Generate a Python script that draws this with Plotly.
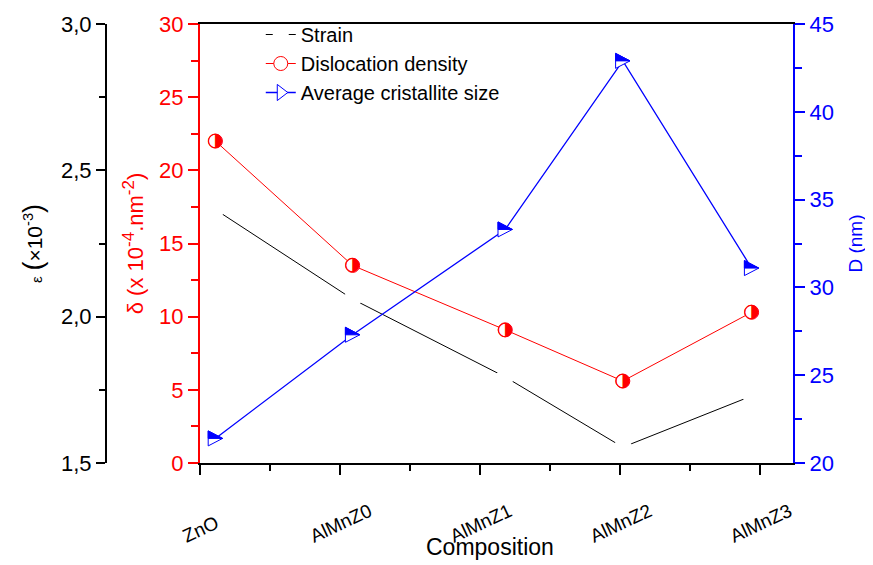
import plotly.graph_objects as go

# ---- data ----
categories = ["ZnO", "AlMnZ0", "AlMnZ1", "AlMnZ2", "AlMnZ3"]
tick_pos = [0, 1, 2, 3, 4]
x_pos = [0.11, 1.09, 2.18, 3.02, 3.94]          # x location of each sample's points
strain = [2.366, 2.060, 1.794, 1.554, 1.729]     # epsilon (x10^-3)
dislocation = [22.0, 13.5, 9.1, 5.6, 10.3]       # delta (x10^-4 nm^-2)
cryst_size = [21.4, 27.3, 33.3, 42.9, 31.1]      # D (nm)

FONT = "Liberation Sans, Arial, Helvetica, sans-serif"
RED = "#ff0000"
BLUE = "#0000ff"

fig = go.Figure()

# Strain: line with gaps at (hidden) symbols
fig.add_trace(go.Scatter(
    x=x_pos, y=strain, name="Strain",
    mode="lines+markers", yaxis="y",
    line=dict(color="black", width=1),
    marker=dict(color="white", size=18, line=dict(width=0)),
    hoverinfo="skip"))

# Dislocation density
fig.add_trace(go.Scatter(
    x=x_pos, y=dislocation, name="Dislocation density",
    mode="lines+markers", yaxis="y2",
    line=dict(color=RED, width=1),
    marker=dict(symbol="circle", color="white", size=14, line=dict(color=RED, width=1)),
    hoverinfo="skip"))
fig.add_trace(go.Scatter(
    x=x_pos, y=dislocation, mode="text", text=["◑"] * len(x_pos), yaxis="y2",
    textposition="middle center", textfont=dict(size=19, color=RED, family="DejaVu Sans"),
    showlegend=False, hoverinfo="skip"))

# Average crystallite size (line; half-filled triangles drawn as pixel-sized shapes)
fig.add_trace(go.Scatter(
    x=x_pos, y=cryst_size, mode="lines", yaxis="y3", showlegend=False,
    line=dict(color=BLUE, width=1.3), hoverinfo="skip"))
fig.add_trace(go.Scatter(
    x=[None], y=[None], name="Average cristallite size",
    mode="lines+markers", yaxis="y3",
    line=dict(color=BLUE, width=1.3),
    marker=dict(symbol="triangle-right", color="white", size=14, line=dict(color=BLUE, width=1))))

TRI_FULL = "M -7.2,7.5 L 7.2,0 L -7.2,-7.5 Z"
TRI_TOP = "M -7.2,7.5 L 7.2,0 L -7.2,0 Z"
shapes = []
for xv, yv in zip(x_pos, cryst_size):
    for path, fill in ((TRI_FULL, "white"), (TRI_TOP, BLUE)):
        shapes.append(dict(
            type="path", xref="x", yref="y3", xsizemode="pixel", ysizemode="pixel",
            xanchor=xv, yanchor=yv, path=path, fillcolor=fill,
            line=dict(color=BLUE, width=1), layer="above"))

# category labels under the x axis (rotated, centred on each tick)
annotations = []
for tv, lab in zip(tick_pos, categories):
    annotations.append(dict(
        x=tv, y=-0.196, xref="x", yref="paper", text=lab, textangle=-25,
        showarrow=False, xanchor="center", yanchor="bottom",
        font=dict(size=19, color="black", family=FONT)))
# x-axis title
annotations.append(dict(
    x=0.5628, y=-0.191, xref="paper", yref="paper", text="Composition",
    showarrow=False, xanchor="center", yanchor="middle",
    font=dict(size=23, color="black", family=FONT)))

SUP = "<sup><span style='font-size:17px'>%s</span></sup>"

fig.update_layout(
    width=865, height=557,
    margin=dict(l=92, r=80, t=16, b=102, autoexpand=False),
    paper_bgcolor="white", plot_bgcolor="white",
    separators=",.",
    font=dict(family=FONT, size=18, color="black"),
    showlegend=True,
    legend=dict(x=0.232, y=1.0205, xanchor="left", yanchor="top",
                bgcolor="rgba(0,0,0,0)", font=dict(size=20, color="black"),
                itemclick=False),
    annotations=annotations,
    shapes=shapes,
    xaxis=dict(
        domain=[100 / 693, 1], range=[0, 593 / 140], automargin=False,
        tickmode="array", tickvals=tick_pos, ticktext=categories, showticklabels=False,
        ticks="outside", ticklen=10, tickwidth=2, tickcolor="black",
        minor=dict(dtick=0.5, tick0=0, ticks="outside", ticklen=6, tickwidth=2, tickcolor="black"),
        showline=True, linecolor="black", linewidth=2, mirror=True,
        showgrid=False, zeroline=False),
    yaxis=dict(
        anchor="free", position=6 / 693, side="left", range=[1.5, 3.0], automargin=False,
        dtick=0.5, tick0=1.5, tickformat=".1f",
        tickfont=dict(size=22, color="black"),
        ticks="outside", ticklen=9, tickwidth=2, tickcolor="black",
        minor=dict(dtick=0.25, tick0=1.5, ticks="outside", ticklen=6, tickwidth=2, tickcolor="black"),
        showline=True, linecolor="black", linewidth=2,
        showgrid=False, zeroline=False,
        title=dict(text="<span style='font-size:15px'>ε</span> <span style='font-size:27px'>(</span>×10<sup>-3</sup><span style='font-size:27px'>)</span>",
                   font=dict(size=21, color="black"), standoff=12)),
    yaxis2=dict(
        overlaying="y", anchor="x", side="left", range=[0, 30], automargin=False,
        dtick=5, tick0=0,
        tickfont=dict(size=22, color=RED),
        ticks="outside", ticklen=10, tickwidth=2, tickcolor=RED,
        minor=dict(dtick=2.5, tick0=0, ticks="outside", ticklen=7, tickwidth=2, tickcolor=RED),
        showline=True, linecolor=RED, linewidth=2,
        showgrid=False, zeroline=False,
        title=dict(text="δ (x 10" + SUP % "-4" + ".nm" + SUP % "-2" + ")",
                   font=dict(size=22, color=RED), standoff=9)),
    yaxis3=dict(
        overlaying="y", anchor="x", side="right", range=[20, 45], automargin=False,
        dtick=5, tick0=20,
        tickfont=dict(size=22, color=BLUE),
        ticks="outside", ticklen=10, tickwidth=2, tickcolor=BLUE,
        minor=dict(dtick=2.5, tick0=20, ticks="outside", ticklen=7, tickwidth=2, tickcolor=BLUE),
        showline=True, linecolor=BLUE, linewidth=2,
        showgrid=False, zeroline=False,
        title=dict(text="D (nm)", font=dict(size=19, color=BLUE), standoff=16)),
)

fig.write_html("out.html")
